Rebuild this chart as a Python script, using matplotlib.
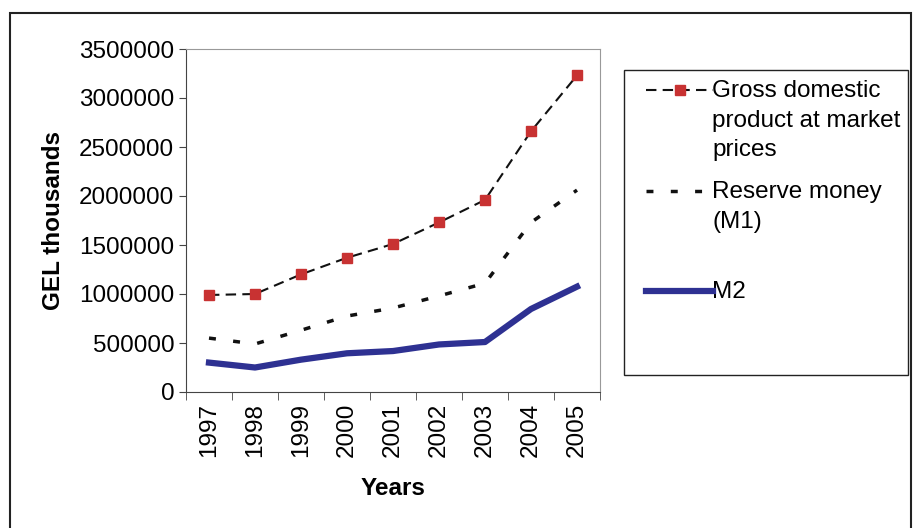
import matplotlib.pyplot as plt
import matplotlib.patches as mpatches
import numpy as np

plt.rcParams['font.family'] = ['Liberation Sans', 'DejaVu Sans']

years = ['1997', '1998', '1999', '2000', '2001', '2002', '2003', '2004', '2005']
gdp = [990000, 1000000, 1200000, 1370000, 1510000, 1730000, 1960000, 2660000, 3230000]
m1 = [550000, 490000, 630000, 775000, 857000, 980000, 1110000, 1730000, 2060000]
m2 = [300000, 250000, 330000, 395000, 418000, 485000, 510000, 847000, 1075000]
labels = ['Gross domestic\nproduct at market\nprices', 'Reserve money\n(M1)', 'M2']

fs = 17.5
fig = plt.figure(figsize=(9.16, 5.28), dpi=100)
# outer frame
fig.patches.append(mpatches.Rectangle((10 / 916, -0.01), 0.995 - 10 / 916, 1 - 13 / 528 + 0.01,
                                      transform=fig.transFigure, fill=False, lw=1.5, ec='#222222'))
# legend frame
fig.patches.append(mpatches.Rectangle((624 / 916, 1 - 375 / 528), 284 / 916, 305 / 528,
                                      transform=fig.transFigure, fill=False, lw=1.0, ec='#222222'))

ax = fig.add_axes([186 / 916, 1 - 392 / 528, 414 / 916, 343 / 528])
x = np.arange(len(years))
l1, = ax.plot(x, gdp, color='#111111', ls=(0, (5, 3)), lw=1.5, marker='s', ms=7,
              mfc='#c83232', mec='#c83232')
l2, = ax.plot(x, m1, color='#111111', ls=(0, (2, 5)), lw=2.5)
l3, = ax.plot(x, m2, color='#2e3192', lw=4.5)

ax.set_xlim(-0.5, len(years) - 0.5)
ax.set_ylim(0, 3500000)
ax.set_yticks(np.arange(0, 3500001, 500000))
ax.set_yticklabels([str(v) for v in range(0, 3500001, 500000)], fontsize=fs)
ax.set_xticks(x)
ax.set_xticklabels(years, rotation=90, fontsize=fs)
ax.tick_params(axis='x', length=0, pad=8)
ax.set_xticks(np.arange(-0.5, len(years)), minor=True)
ax.tick_params(axis='x', which='minor', length=6, color='#444444')
ax.tick_params(axis='y', length=5, color='#444444')
for s in ['top', 'right']:
    ax.spines[s].set_color('#999999')
for s in ['left', 'bottom']:
    ax.spines[s].set_color('#444444')
ax.set_ylabel('GEL thousands', fontsize=17.5, fontweight='bold', labelpad=10)
ax.set_xlabel('Years', fontsize=17.5, fontweight='bold', labelpad=14)

# legend: Excel style, handle aligned with first text line
for handle, lab, ytop in zip([l1, l2, l3], labels, [92, 193, 293]):
    fig.legend([handle], [''], loc='center left',
               bbox_to_anchor=(634 / 916, 1 - ytop / 528), frameon=False,
               handlelength=2.75, fontsize=fs, borderpad=0, handletextpad=0)
    fig.text(712 / 916, 1 - (ytop - 12) / 528, lab, fontsize=fs, va='top',
             linespacing=1.45)

fig.savefig('out.png', dpi=100)
